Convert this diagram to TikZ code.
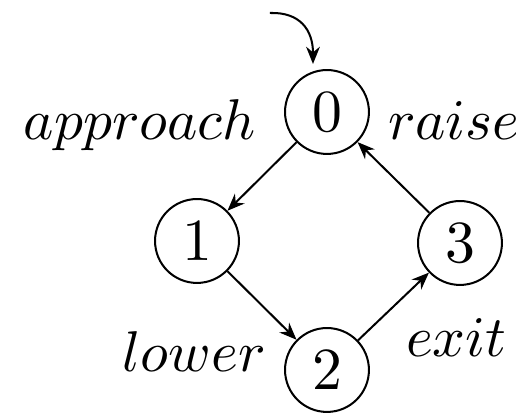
\documentclass[tikz,border=0pt]{standalone}
\usetikzlibrary{arrows.meta}
\begin{document}
\begin{tikzpicture}[x=0.174pt,y=-0.174pt,
  state/.style={draw,circle,line width=0.35pt,minimum size=14.6pt,inner sep=0pt,font=\fontsize{10.4}{12}\selectfont},
  lbl/.style={inner sep=0pt,font=\fontsize{10.4}{12}\selectfont},
  edge/.style={line width=0.35pt,-{Stealth[length=3pt,width=2.4pt]}}]
\useasboundingbox (0,0) rectangle (516,413);
\node[state] (n0) at (327,112) {0};
\node[state] (n1) at (197,241) {1};
\node[state] (n3) at (460,243) {3};
\node[state] (n2) at (327,370) {2};
\coordinate (s) at (270,13);
\coordinate (e) at (313,64);
\draw[edge] (s) .. controls (300,12) and (313,30) .. (e);
\draw[edge] (n0) -- (n1);
\draw[edge] (n1) -- (n2);
\draw[edge] (n2) -- (n3);
\draw[edge] (n3) -- (n0);
\node[lbl,anchor=base east] (la) at (257,140) {$approach$};
\node[lbl,anchor=base west] (lr) at (387,140) {$raise$};
\node[lbl,anchor=base east] (ll) at (267,372) {$lower$};
\node[lbl,anchor=base west] (le) at (405,357) {$exit$};
\end{tikzpicture}
\end{document}
